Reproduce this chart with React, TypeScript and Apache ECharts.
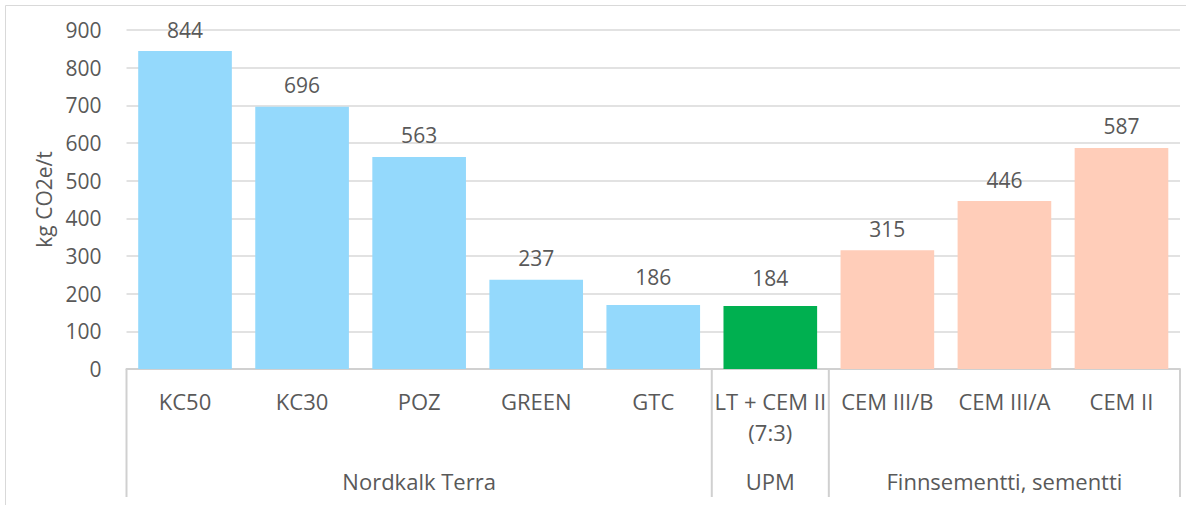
import React, { useEffect, useRef } from "react";
import * as echarts from "echarts";

const categories = ["KC50", "KC30", "POZ", "GREEN", "GTC", "LT + CEM II\n(7:3)", "CEM III/B", "CEM III/A", "CEM II"];
const groups = ["Nordkalk Terra", "Nordkalk Terra", "Nordkalk Terra", "Nordkalk Terra", "Nordkalk Terra", "UPM", "Finnsementti, sementti", "Finnsementti, sementti", "Finnsementti, sementti"];
const groupLabelIndex = [2, 5, 7];
const groupBoundaries = [0, 5, 6, 9];
// drawn bar heights as they appear in the picture
const barHeights = [844, 696, 563, 237, 170, 167, 315, 446, 587];
// printed value labels
const labelValues = [844, 696, 563, 237, 186, 184, 315, 446, 587];
const barColors = ["#94D9FC", "#94D9FC", "#94D9FC", "#94D9FC", "#94D9FC", "#00B050", "#FFCDB9", "#FFCDB9", "#FFCDB9"];
const yTicks = { min: 0, max: 900, interval: 100 };

const FONT = "'Open Sans', sans-serif";
const TEXT = "#595959";
const LINE = "#D0D0D0";

export default function App() {
  const ref = useRef<HTMLDivElement>(null);
  useEffect(() => {
    if (!ref.current) return;
    const chart = echarts.init(ref.current, null, { renderer: "svg" });
    chart.setOption({
      animation: false,
      textStyle: { fontFamily: FONT },
      grid: { left: 126.5, right: 6, top: 30, bottom: 136, containLabel: false },
      xAxis: [
        {
          type: "category",
          data: categories,
          position: "bottom",
          axisLine: { show: true, lineStyle: { color: LINE, width: 2 } },
          axisTick: { show: false },
          axisLabel: {
            interval: 0,
            color: TEXT,
            fontSize: 22,
            lineHeight: 31,
            margin: 16,
            fontFamily: FONT,
            verticalAlign: "top",
          },
        },
        {
          type: "category",
          data: groups,
          position: "bottom",
          axisLine: { show: false },
          axisTick: { show: false },
          axisLabel: {
            interval: 0,
            color: TEXT,
            fontSize: 22,
            lineHeight: 31,
            margin: 96,
            fontFamily: FONT,
            verticalAlign: "top",
            formatter: (v: string, i: number) => (groupLabelIndex.includes(i) ? v : ""),
          },
        },
      ],
      yAxis: {
        type: "value",
        min: yTicks.min,
        max: yTicks.max,
        interval: yTicks.interval,
        name: "kg CO2e/t",
        nameLocation: "middle",
        nameRotate: 90,
        nameGap: 70,
        nameTextStyle: { color: TEXT, fontSize: 21, fontFamily: FONT },
        axisLine: { show: false },
        axisTick: { show: false },
        axisLabel: { color: TEXT, fontSize: 21, margin: 25, fontFamily: FONT },
        splitLine: { lineStyle: { color: "#D9D9D9", width: 1.5 } },
      },
      series: [
        {
          type: "bar",
          xAxisIndex: 0,
          data: labelValues.map((v) => ({ value: v, itemStyle: { color: "rgba(0,0,0,0)" } })),
          barCategoryGap: "20%",
          barGap: "-100%",
          z: 1,
          label: {
            show: true,
            position: "top",
            distance: 11,
            color: TEXT,
            fontSize: 21,
            lineHeight: 21,
            fontFamily: FONT,
          },
        },
        {
          type: "bar",
          xAxisIndex: 0,
          data: barHeights.map((v, i) => ({ value: v, itemStyle: { color: barColors[i] } })),
          barCategoryGap: "20%",
          barGap: "-100%",
          z: 2,
        },
      ],
    });

    const c0 = chart.convertToPixel({ xAxisIndex: 0 }, 0) as number;
    const c1 = chart.convertToPixel({ xAxisIndex: 0 }, 1) as number;
    const band = c1 - c0;
    const y0 = chart.convertToPixel({ yAxisIndex: 0 }, 0) as number;
    const lines = groupBoundaries.map((b) => {
      const x = c0 + (b - 0.5) * band;
      return {
        type: "line",
        shape: { x1: x, y1: y0, x2: x, y2: y0 + 128 },
        style: { stroke: LINE, lineWidth: 2 },
        z: 10,
      };
    });
    chart.setOption({
      graphic: [
        ...lines,
        { type: "line", shape: { x1: 5.5, y1: 5.5, x2: 1186, y2: 5.5 }, style: { stroke: "#D9D9D9", lineWidth: 1 } },
        { type: "line", shape: { x1: 5.5, y1: 5.5, x2: 5.5, y2: 505 }, style: { stroke: "#D9D9D9", lineWidth: 1 } },
      ],
    });
    return () => chart.dispose();
  }, []);
  return (
    <div
      ref={ref}
      style={{ position: "fixed", left: 0, top: 0, width: 1186, height: 505, background: "#fff" }}
    />
  );
}
